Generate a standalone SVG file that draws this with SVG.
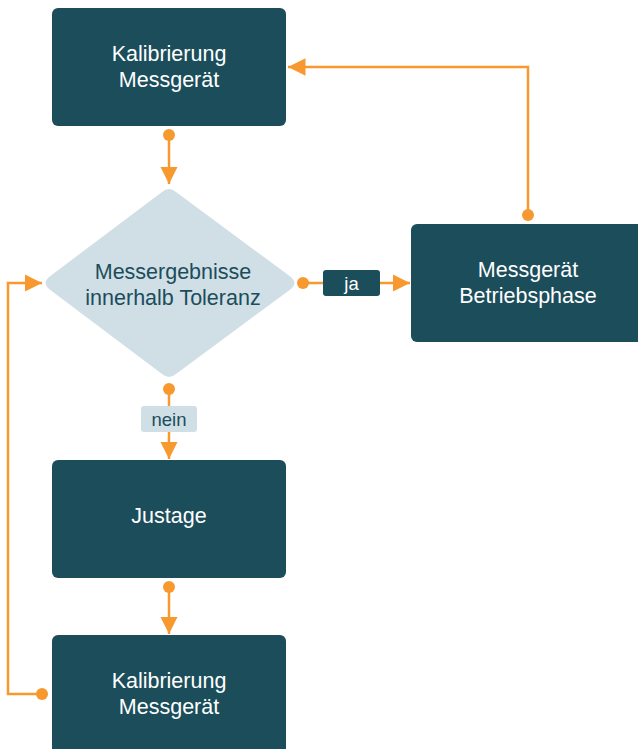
<svg xmlns="http://www.w3.org/2000/svg" width="638" height="749" viewBox="0 0 638 749">
<style>
.box{fill:#1b4d5b}
.t{font-family:"Liberation Sans",Arial,sans-serif;font-size:21.5px;text-anchor:middle}
.s{font-size:18.5px}
.w{fill:#ffffff}
.d{fill:#1b4d5b}
.c{stroke:#f7992f;stroke-width:2.5;fill:none}
.dot{fill:#f7992f}
</style>
<defs>
<marker id="ah" viewBox="0 0 10 10" refX="10" refY="5" markerWidth="7" markerHeight="7" markerUnits="strokeWidth" orient="auto">
<path d="M0,0 L10,5 L0,10 z" fill="#f7992f"/>
</marker>
</defs>
<rect width="638" height="749" fill="#ffffff"/>
<g id="connectors">
<circle class="dot" cx="169" cy="135" r="6"/>
<path class="c" d="M169,135 V184" marker-end="url(#ah)"/>
<circle class="dot" cx="303" cy="283" r="6"/>
<path class="c" d="M303,283 H410" marker-end="url(#ah)"/>
<circle class="dot" cx="528" cy="215" r="6"/>
<path class="c" d="M528,215 V67 H288" marker-end="url(#ah)"/>
<circle class="dot" cx="169" cy="389" r="6"/>
<path class="c" d="M169,389 V459" marker-end="url(#ah)"/>
<circle class="dot" cx="169" cy="587" r="6"/>
<path class="c" d="M169,587 V634" marker-end="url(#ah)"/>
<circle class="dot" cx="42" cy="694" r="6"/>
<path class="c" d="M42,694 H8 V283 H42" marker-end="url(#ah)"/>
<g id="label-ja">
<rect x="323" y="270" width="57" height="26" rx="3" class="box"/>
<text class="t s w" x="351.5" y="290">ja</text>
</g>
<g id="label-nein">
<rect x="141" y="406" width="56" height="26" rx="3" fill="#d0dfe6"/>
<text class="t s d" x="169" y="425.5">nein</text>
</g>
</g>
<g id="n1">
<rect class="box" x="52" y="8" width="234" height="118" rx="6"/>
<text class="t w" x="169" y="60.5">Kalibrierung</text>
<text class="t w" x="169" y="87">Messgerät</text>
</g>
<g id="n2">
<path d="M162,192 Q169,186 176,192 L291,277 Q298,283 291,289 L176,374 Q169,380 162,374 L49,289 Q42,283 49,277 Z" fill="#d0dfe6"/>
<text class="t d" x="173" y="279">Messergebnisse</text>
<text class="t d" x="173" y="305">innerhalb Toleranz</text>
</g>
<g id="n3">
<rect class="box" x="411" y="224" width="240" height="118" rx="6"/>
<text class="t w" x="528" y="277">Messgerät</text>
<text class="t w" x="528" y="303">Betriebsphase</text>
</g>
<g id="n4">
<rect class="box" x="52" y="460" width="234" height="118" rx="6"/>
<text class="t w" x="169" y="523">Justage</text>
</g>
<g id="n5">
<rect class="box" x="52" y="635" width="234" height="130" rx="6"/>
<text class="t w" x="169" y="687.5">Kalibrierung</text>
<text class="t w" x="169" y="714">Messgerät</text>
</g>
</svg>
